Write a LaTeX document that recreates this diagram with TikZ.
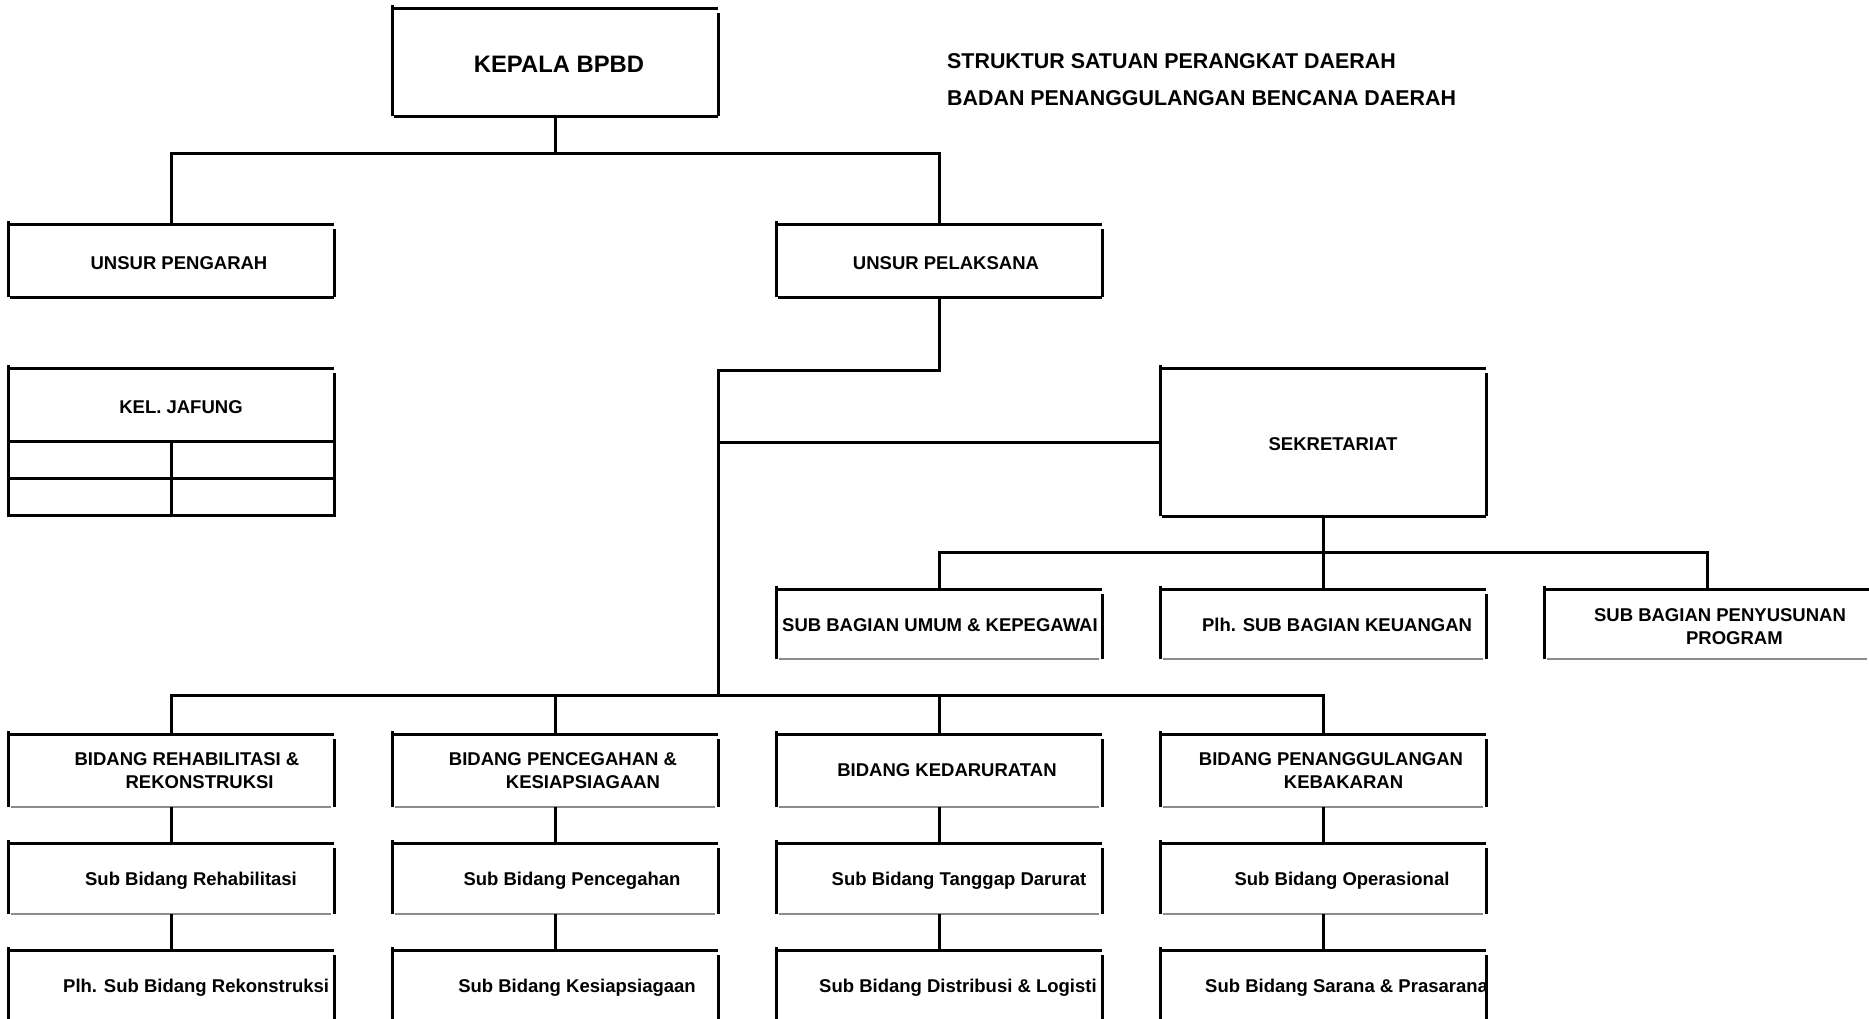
\documentclass[tikz,border=0pt]{standalone}
\usepackage{fontspec}
\setmainfont{Liberation Sans}
\usetikzlibrary{positioning}

\begin{document}
\begin{tikzpicture}[x=1pt,y=-1pt,on grid,node distance=384pt,
	box/.style={rectangle,minimum width=326pt,minimum height=#1,inner sep=0pt,outer sep=0pt},
	box/.default=73pt,
	txt/.style={font=\bfseries\fontsize{18.5}{23}\selectfont,align=left,inner sep=0pt,text depth=0pt},
	heading/.style={font=\bfseries\fontsize{21.4}{25}\selectfont,anchor=base west,inner sep=0pt},
	rule/.style={line width=3pt,black},
	hair/.style={line width=1.5pt,black!45},
	link/.style={line width=3pt,black}]
	\useasboundingbox (0,0) rectangle (1869,1018);
	\clip (0,0) rectangle (1869,1018);
	\node[box=108pt,label={[txt,font=\bfseries\fontsize{23.8}{27}\selectfont,xshift=4pt,yshift=-2pt]center:KEPALA BPBD}] (kepala) at (555,62) {};
	\node[heading] (judul) at (947,68) {STRUKTUR SATUAN PERANGKAT DAERAH};
	\node[heading] (instansi) at (947,105) {BADAN PENANGGULANGAN BENCANA DAERAH};
	\node[box,label={[txt,xshift=8pt,yshift=-3pt]center:UNSUR PENGARAH}] (pengarah) at (171,260.5) {};
	\node[box,label={[txt,xshift=7pt,yshift=-3pt]center:UNSUR PELAKSANA}] (pelaksana) [right=768pt of pengarah] {};
	\node[box,label={[txt,xshift=10pt,yshift=-3pt]center:KEL. JAFUNG}] (jafung) at (171,404.5) {};
	\node[box=148pt,label={[txt,xshift=10pt,yshift=-2.5pt]center:SEKRETARIAT}] (sekretariat) at (1323,442) {};
	\node[box=70pt,label={[txt,anchor=west,xshift=6pt,yshift=-1pt]west:SUB BAGIAN UMUM \& KEPEGAWAI}] (umum) at (939,624) {};
	\node[box=70pt,label={[txt,xshift=14pt,yshift=-1pt]center:Plh. SUB BAGIAN KEUANGAN}] (keuangan) [right=of umum] {};
	\node[box=70pt,label={[txt,xshift=13pt,yshift=-2.5pt]center:SUB BAGIAN PENYUSUNAN\\\hspace*{92pt}PROGRAM}] (program) [right=of keuangan] {};
	\node[box,label={[txt,xshift=16pt]center:BIDANG REHABILITASI \&\\\hspace*{51pt}REKONSTRUKSI}] (rehab) at (171,770.5) {};
	\node[box,label={[txt,xshift=8pt]center:BIDANG PENCEGAHAN \&\\\hspace*{57pt}KESIAPSIAGAAN}] (cegah) [right=of rehab] {};
	\node[box,label={[txt,xshift=8pt]center:BIDANG KEDARURATAN}] (darurat) [right=of cegah] {};
	\node[box,label={[txt,xshift=8pt]center:BIDANG PENANGGULANGAN\\\hspace*{85pt}KEBAKARAN}] (kebakaran) [right=of darurat] {};
	\node[box=71pt,label={[txt,xshift=20pt]center:Sub Bidang Rehabilitasi}] (subrehab) at (171,878.5) {};
	\node[box=71pt,label={[txt,xshift=17pt]center:Sub Bidang Pencegahan}] (subcegah) [right=of subrehab] {};
	\node[box=71pt,label={[txt,xshift=20pt]center:Sub Bidang Tanggap Darurat}] (subdarurat) [right=of subcegah] {};
	\node[box=71pt,label={[txt,xshift=19pt]center:Sub Bidang Operasional}] (subops) [right=of subdarurat] {};
	\node[box=71pt,label={[txt,anchor=west,xshift=55pt]west:Plh. Sub Bidang Rekonstruksi}] (subrekon) at (171,985.5) {};
	\node[box=71pt,label={[txt,xshift=22pt]center:Sub Bidang Kesiapsiagaan}] (subsiaga) [right=of subrekon] {};
	\node[box=71pt,label={[txt,anchor=west,xshift=43pt]west:Sub Bidang Distribusi \& Logisti}] (sublogistik) [right=of subsiaga] {};
	\node[box=71pt,label={[txt,anchor=west,xshift=45pt]west:Sub Bidang Sarana \& Prasarana}] (subsarana) [right=of sublogistik] {};

	\foreach \n in {kepala,pengarah,pelaksana,jafung,sekretariat,umum,keuangan,program,rehab,cegah,darurat,kebakaran,subrehab,subcegah,subdarurat,subops,subrekon,subsiaga,sublogistik,subsarana}{
		\draw[rule] ([yshift=3pt]\n.north west) -- (\n.south west);
		\draw[rule] ([xshift=2pt]\n.north west) -- (\n.north east);
		\draw[rule] ([yshift=-5pt]\n.north east) -- (\n.south east);
	}
	\foreach \n in {kepala,pengarah,pelaksana,jafung,sekretariat}
		\draw[rule] ([xshift=2pt]\n.south west) -- (\n.south east);
	\foreach \n in {umum,keuangan,program,rehab,cegah,darurat,kebakaran,subrehab,subcegah,subdarurat,subops}
		\draw[hair] ([xshift=3pt]\n.south west) -- ([xshift=-3pt]\n.south east);
	\draw[rule] (jafung.south west) -- ++(0,74) -- ++(326,0) -- (jafung.south east);
	\draw[rule] ([yshift=-37pt]jafung.south west) -- ++(326,0);
	\draw[rule] (jafung.south) -- ++(0,74);

	\coordinate (hub) at (555,153);
	\coordinate (elbow) at (718,370);
	\coordinate (secbus) at (1323,552);
	\coordinate (bidbus) at (718,695);
	\draw[link] (kepala.south) -- (hub);
	\draw[link] (pengarah.north) |- (hub) -| (pelaksana.north);
	\draw[link] (pelaksana.south) |- (elbow) -- (bidbus);
	\draw[link] (sekretariat.west) -- (sekretariat.west -| elbow);
	\draw[link] (sekretariat.south) -- (keuangan.north);
	\draw[link] (umum.north) |- (secbus) -| (program.north);
	\draw[link] (rehab.north) |- (bidbus) -| (kebakaran.north);
	\draw[link] (cegah.north) -- (cegah.north |- bidbus);
	\draw[link] (darurat.north) -- (darurat.north |- bidbus);
	\foreach \a/\b/\c in {rehab/subrehab/subrekon,cegah/subcegah/subsiaga,darurat/subdarurat/sublogistik,kebakaran/subops/subsarana}
		\draw[link] (\a.south) -- (\b.north) (\b.south) -- (\c.north);
\end{tikzpicture}
\end{document}
